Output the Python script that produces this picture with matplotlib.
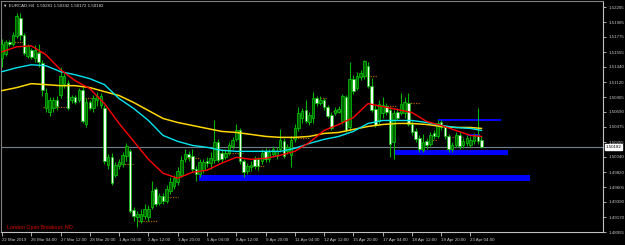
import numpy as np
import matplotlib.pyplot as plt
from matplotlib import font_manager

## EURCAD H4 candles

opens = [1.51472, 1.51529, 1.51702, 1.51673, 1.51788, 1.52047, 1.51803, 1.51501, 1.51587, 1.51472,
         1.51544, 1.51400, 1.50753, 1.50695, 1.50753, 1.50868, 1.50940, 1.51098, 1.51112, 1.50868,
         1.50911, 1.50868, 1.51012, 1.50508, 1.50839, 1.50753, 1.50868, 1.50796, 1.50753, 1.49919,
         1.50034, 1.49775, 1.49905, 1.49933, 1.50048, 1.50120, 1.49272, 1.49171, 1.49114, 1.49186,
         1.49171, 1.49315, 1.49574, 1.49372, 1.49473, 1.49401, 1.49545, 1.49617, 1.49674, 1.49775,
         1.50005, 1.50077, 1.50048, 1.49861, 1.49789, 1.49847, 1.49976, 1.49948, 1.49991, 1.50250,
         1.50091, 1.50034, 1.50091, 1.50192, 1.50293, 1.50422, 1.49976, 1.49833, 1.49890, 1.50005,
         1.50005, 1.49976, 1.50120, 1.50005, 1.50077, 1.50048, 1.50149, 1.50264, 1.50120, 1.50063,
         1.50293, 1.50451, 1.50609, 1.50724, 1.50537, 1.50609, 1.50897, 1.50825, 1.50868, 1.50767,
         1.50638, 1.50681, 1.50695, 1.50552, 1.50911, 1.50465, 1.51170, 1.51041, 1.51199, 1.51213,
         1.51357, 1.51069, 1.50739, 1.50552, 1.50667, 1.50782, 1.50724, 1.50250, 1.50695, 1.50681,
         1.50667, 1.50825, 1.50508, 1.50408, 1.50307, 1.50135, 1.50264, 1.50221, 1.50379, 1.50336,
         1.50537, 1.50465, 1.50336, 1.50149, 1.50206, 1.50350, 1.50206, 1.50235, 1.50206, 1.50264,
         1.50336, 1.50281]
highs = [1.51745, 1.51731, 1.51731, 1.51846, 1.52119, 1.52119, 1.51831, 1.51673, 1.51616, 1.51659,
         1.51673, 1.51443, 1.51041, 1.50911, 1.50911, 1.50926, 1.51343, 1.51256, 1.51156, 1.50940,
         1.50940, 1.51041, 1.51055, 1.50897, 1.50868, 1.50940, 1.50983, 1.50969, 1.50796, 1.50077,
         1.50091, 1.49962, 1.50005, 1.50106, 1.50235, 1.50149, 1.49315, 1.49257, 1.49286, 1.49358,
         1.49344, 1.49689, 1.49603, 1.49516, 1.49516, 1.49631, 1.49746, 1.49775, 1.49890, 1.50048,
         1.50149, 1.50120, 1.50149, 1.49905, 1.50005, 1.50005, 1.50034, 1.50106, 1.50580, 1.50293,
         1.50149, 1.50149, 1.50250, 1.50322, 1.50508, 1.50451, 1.50005, 1.49948, 1.49976, 1.50048,
         1.50034, 1.50149, 1.50163, 1.50149, 1.50192, 1.50178, 1.50437, 1.50307, 1.50221, 1.50336,
         1.50508, 1.50767, 1.50753, 1.50868, 1.50695, 1.50983, 1.50926, 1.50926, 1.50897, 1.50796,
         1.50695, 1.50767, 1.50782, 1.50954, 1.50940, 1.51414, 1.51227, 1.51271, 1.51299, 1.51443,
         1.51414, 1.51184, 1.50796, 1.50868, 1.50911, 1.50825, 1.50767, 1.50724, 1.50753, 1.50969,
         1.50911, 1.50969, 1.50552, 1.50451, 1.50350, 1.50365, 1.50307, 1.50393, 1.50422, 1.50566,
         1.50580, 1.50494, 1.50365, 1.50250, 1.50393, 1.50393, 1.50307, 1.50350, 1.50336, 1.50379,
         1.50753, 1.50342]
lows = [1.51343, 1.51501, 1.51645, 1.51645, 1.51760, 1.51731, 1.51515, 1.51472, 1.51458, 1.51414,
        1.51343, 1.50926, 1.50695, 1.50624, 1.50695, 1.50724, 1.50897, 1.51041, 1.50724, 1.50825,
        1.50810, 1.50839, 1.50523, 1.50465, 1.50724, 1.50695, 1.50782, 1.50753, 1.49933, 1.49861,
        1.49631, 1.49746, 1.49861, 1.49890, 1.49976, 1.49229, 1.49114, 1.49027, 1.49085, 1.49142,
        1.49114, 1.49286, 1.49329, 1.49344, 1.49358, 1.49372, 1.49502, 1.49574, 1.49631, 1.49746,
        1.49962, 1.49976, 1.49818, 1.49689, 1.49746, 1.49804, 1.49890, 1.49861, 1.49948, 1.49962,
        1.49962, 1.50005, 1.50063, 1.50149, 1.50264, 1.49933, 1.49746, 1.49789, 1.49833, 1.49861,
        1.49847, 1.49933, 1.49962, 1.49962, 1.50034, 1.50005, 1.50106, 1.50020, 1.50077, 1.49890,
        1.50250, 1.50408, 1.50523, 1.50523, 1.50494, 1.50523, 1.50782, 1.50796, 1.50724, 1.50595,
        1.50422, 1.50638, 1.50667, 1.50508, 1.50393, 1.50408, 1.50954, 1.51012, 1.51156, 1.51170,
        1.51041, 1.50695, 1.50465, 1.50508, 1.50609, 1.50652, 1.50034, 1.50005, 1.50580, 1.50638,
        1.50609, 1.50480, 1.50350, 1.50250, 1.50106, 1.50106, 1.50149, 1.50192, 1.50293, 1.50307,
        1.50422, 1.50293, 1.50106, 1.50106, 1.50178, 1.50149, 1.50163, 1.50192, 1.50178, 1.50221,
        1.50221, 1.50172]
closes = [1.51673, 1.51702, 1.51673, 1.51803, 1.52076, 1.51803, 1.51544, 1.51645, 1.51486, 1.51587,
          1.51414, 1.51012, 1.50969, 1.50868, 1.50868, 1.50782, 1.51213, 1.51213, 1.50753, 1.50911,
          1.50839, 1.51012, 1.50552, 1.50839, 1.50753, 1.50897, 1.50926, 1.50926, 1.49976, 1.50034,
          1.49660, 1.49919, 1.49962, 1.50063, 1.50192, 1.49257, 1.49186, 1.49214, 1.49214, 1.49286,
          1.49286, 1.49545, 1.49358, 1.49473, 1.49401, 1.49574, 1.49674, 1.49732, 1.49833, 1.49991,
          1.50077, 1.50034, 1.49861, 1.49789, 1.49962, 1.49962, 1.49948, 1.50020, 1.50250, 1.49991,
          1.50005, 1.50091, 1.50206, 1.50278, 1.50422, 1.49976, 1.49818, 1.49905, 1.49919, 1.49905,
          1.49905, 1.50091, 1.50005, 1.50106, 1.50149, 1.50120, 1.50278, 1.50048, 1.50178, 1.50278,
          1.50451, 1.50667, 1.50710, 1.50552, 1.50638, 1.50897, 1.50825, 1.50868, 1.50767, 1.50624,
          1.50451, 1.50724, 1.50739, 1.50926, 1.50422, 1.51170, 1.50997, 1.51213, 1.51256, 1.51429,
          1.51069, 1.50724, 1.50494, 1.50810, 1.50796, 1.50695, 1.50221, 1.50681, 1.50609, 1.50810,
          1.50839, 1.50508, 1.50393, 1.50293, 1.50149, 1.50250, 1.50206, 1.50350, 1.50336, 1.50523,
          1.50465, 1.50336, 1.50149, 1.50206, 1.50350, 1.50192, 1.50264, 1.50307, 1.50278, 1.50336,
          1.50264, 1.50182]

# moving averages, read every 4th bar
ma_bars = list(range(0, 129, 4)) + [131]
ma_red = [1.51558, 1.51630, 1.51645, 1.51515, 1.51299, 1.51141, 1.51026, 1.50810, 1.50523, 1.50264,
          1.50005, 1.49804, 1.49732, 1.49818, 1.49847, 1.49948, 1.50034, 1.50005, 1.50020, 1.50063,
          1.50120, 1.50250, 1.50422, 1.50508, 1.50609, 1.50810, 1.50767, 1.50724, 1.50681, 1.50552,
          1.50494, 1.50422, 1.50350, 1.50336]
ma_cyan = [1.51271, 1.51328, 1.51371, 1.51357, 1.51271, 1.51227, 1.51170, 1.51084, 1.50882, 1.50739,
           1.50566, 1.50350, 1.50264, 1.50206, 1.50178, 1.50135, 1.50120, 1.50120, 1.50120, 1.50120,
           1.50163, 1.50235, 1.50293, 1.50336, 1.50408, 1.50523, 1.50566, 1.50566, 1.50566, 1.50537,
           1.50494, 1.50465, 1.50451, 1.50422]
ma_yellow = [1.50997, 1.51041, 1.51098, 1.51084, 1.51069, 1.51069, 1.51041, 1.50983, 1.50926, 1.50825,
             1.50710, 1.50595, 1.50537, 1.50494, 1.50451, 1.50408, 1.50393, 1.50365, 1.50336, 1.50322,
             1.50322, 1.50336, 1.50379, 1.50393, 1.50437, 1.50480, 1.50508, 1.50523, 1.50523, 1.50508,
             1.50480, 1.50465, 1.50465, 1.50451]

# blue zones (bar from, bar to, price low, price high)
zone_from = [53.8, 107.4, 127.0]
zone_to = [144.3, 138.3, 130.5]
zone_lo = [1.49689, 1.50063, 1.50336]
zone_hi = [1.49775, 1.50135, 1.50365]
line_from, line_to, line_price = 119.1, 136.3, 1.50580

# london open levels (dotted)
lvl_from = [2.7, 9.6, 11.2, 21.3, 31.4, 37.2, 44.5, 50.0, 60.1, 67.8, 78.7, 86.9, 90.4, 97.8, 102.5, 109.6, 116.9, 123.0]
lvl_to = [5.7, 11.7, 17.8, 26.8, 35.8, 42.3, 48.1, 54.1, 65.8, 71.9, 84.2, 88.8, 95.9, 102.5, 107.9, 114.2, 118.9, 126.0]
lvl_price = [1.51702, 1.51558, 1.50767, 1.50897, 1.49933, 1.49114, 1.49459, 1.50020, 1.50091, 1.49905,
             1.50307, 1.50897, 1.50710, 1.51213, 1.50782, 1.50825, 1.50278, 1.50322]

price_ticks = [1.52205, 1.51985, 1.51775, 1.51555, 1.51340, 1.51120, 1.50905, 1.50690, 1.50475,
               1.50255, 1.50040, 1.49820, 1.49605, 1.49390, 1.49170, 1.48955]
time_labels = ['22 Mar 2019', '26 Mar 04:00', '27 Mar 12:00', '28 Mar 20:00', '1 Apr 04:00',
               '2 Apr 12:00', '3 Apr 20:00', '5 Apr 04:00', '8 Apr 12:00', '9 Apr 20:00',
               '11 Apr 04:00', '12 Apr 12:00', '15 Apr 20:00', '17 Apr 04:00', '18 Apr 12:00',
               '19 Apr 20:00', '23 Apr 04:00']

# narrow font if there is one
names = {f.name for f in font_manager.fontManager.ttflist}
small = 'Liberation Sans Narrow' if 'Liberation Sans Narrow' in names else 'Liberation Sans'
fs = 4.0 if small == 'Liberation Sans Narrow' else 3.2

o = np.array(opens); h = np.array(highs); l = np.array(lows); c = np.array(closes)
x = np.arange(len(c))

fig = plt.figure(figsize=(6.25, 2.45), dpi=100, facecolor='black')
ax = fig.add_axes([1/625, 13/245, 602/625, 231/245])
ax.set_facecolor('black')
ax.set_xlim(-0.27, 164.2)
ax.set_ylim(1.48970, 1.52292)

# zones behind everything
for a, b, lo, hi in zip(zone_from, zone_to, zone_lo, zone_hi):
    ax.fill_between([a, b], lo, hi, color='#0000ff', lw=0, zorder=1)
ax.hlines(line_price, line_from, line_to, colors='#0000ff', lw=1.4, zorder=1)

ax.axhline(c[-1], color='#708090', lw=0.8, zorder=1.5)
ax.hlines(lvl_price, lvl_from, lvl_to, colors='#a86000', linestyles=(0, (1, 1)), lw=0.9, zorder=2)

# candles
up = c >= o
ax.vlines(x, l, h, color='#00b400', lw=0.8, zorder=3)
bot = np.minimum(o, c)
ht = np.maximum(np.abs(c - o), 0.00004)
ax.bar(x[up], ht[up], bottom=bot[up], width=0.7, color='#006000', edgecolor='#00d000', lw=0.5, zorder=4)
ax.bar(x[~up], ht[~up], bottom=bot[~up], width=0.7, color='#f4fff4', edgecolor='#00c000', lw=0.5, zorder=4)

ax.plot(ma_bars, ma_yellow, color='#ffd700', lw=1.1, zorder=5)
ax.plot(ma_bars, ma_cyan, color='#00e5ee', lw=1.0, zorder=5)
ax.plot(ma_bars, ma_red, color='#ff0000', lw=1.0, zorder=6)

# axes
ax.yaxis.tick_right()
ax.set_yticks(price_ticks)
ax.set_yticklabels(['%.5f' % p for p in price_ticks], family=small)
ax.set_xticks(range(0, 8 * len(time_labels), 8))
ax.set_xticklabels(time_labels, ha='left', family=small)
ax.tick_params(axis='y', colors='#c8c8c8', labelsize=fs, length=2.5, width=0.6, pad=1.5)
ax.tick_params(axis='x', colors='#c8c8c8', labelsize=fs, length=3, width=0.6, pad=1.5)
for s in ['right', 'bottom']:
    ax.spines[s].set_color('#c0c0c0')
    ax.spines[s].set_linewidth(0.8)
for s in ['left', 'top']:
    ax.spines[s].set_color('#808080')
    ax.spines[s].set_linewidth(0.8)

ax.annotate('%.5f' % c[-1], xy=(1.005, c[-1]), xycoords=('axes fraction', 'data'),
            ha='left', va='center', fontsize=fs, color='black', family=small,
            bbox=dict(boxstyle='square,pad=0.15', fc='white', ec='white'))

fig.text(3/625, 1 - 5.5/245, '▼ EURCAD,H4  %.5f %.5f %.5f %.5f' % (o[-1], h[-1], l[-1], c[-1]),
         color='#d8d8d8', fontsize=fs, va='center', ha='left', family=[small, 'DejaVu Sans'])
ax.text(6/602, 5/231, 'London Open Breakout: NO', transform=ax.transAxes,
        color='#e00000', fontsize=fs + 0.6, va='center', ha='left', family=small)

fig.savefig('out.png', dpi=100, facecolor='black')
